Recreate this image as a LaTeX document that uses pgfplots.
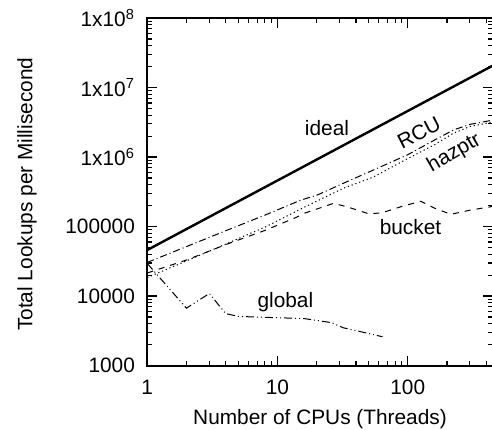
\documentclass[border=0pt]{standalone}
\usepackage{fontspec}
\setmainfont{Liberation Sans}
\usepackage{pgfplots}
\pgfplotsset{compat=1.18}
\begin{document}
\fontsize{10.4}{12}\selectfont
\begin{tikzpicture}
\begin{axis}[name=ax,
  xmode=log, ymode=log,
  scale only axis, width=172.5pt, height=173.5pt,
  xmin=1, xmax=450, ymin=1000, ymax=1e8,
  xtick={1,10,100}, xticklabels={1,10,100},
  ytick={1000,10000,100000,1000000,10000000,100000000},
  yticklabels={1000,10000,100000,1x10\textsuperscript{6},1x10\textsuperscript{7},1x10\textsuperscript{8}},
  minor xtick={2,3,4,5,6,7,8,9,20,30,40,50,60,70,80,90,200,300,400},
  minor ytick={2e3,3e3,4e3,5e3,6e3,7e3,8e3,9e3,2e4,3e4,4e4,5e4,6e4,7e4,8e4,9e4,2e5,3e5,4e5,5e5,6e5,7e5,8e5,9e5,2e6,3e6,4e6,5e6,6e6,7e6,8e6,9e6,2e7,3e7,4e7,5e7,6e7,7e7,8e7,9e7},
  axis line style={line width=1pt},
  major tick length=5pt, minor tick length=2.5pt,
  every tick/.style={black, line width=0.6pt},
  tick label style={font=\fontsize{10.4}{12}\selectfont},
  xticklabel style={yshift=-3.5pt},
  yticklabel style={xshift=-2.5pt},
  label style={font=\fontsize{10.4}{12}\selectfont},
  xlabel={Number of CPUs (Threads)},
  ylabel={Total Lookups per Millisecond},
  xlabel style={at={(axis description cs:0.5,-0.153)}, anchor=center},
  ylabel style={at={(axis description cs:-0.348,0.493)}, anchor=center},
]
% ideal
\addplot[black, line width=1.2pt] coordinates {(1,46000) (450,20700000)};
% RCU
\addplot[black, line width=0.5pt, dash pattern=on 3.5pt off 1.5pt on 0.5pt off 1.5pt] coordinates {
(1,30500) (2,51500) (4,87000) (8,146000) (15,239000) (20,282000) (32,419000) (54,646000) (100,1080000) (160,1750000) (224,2450000) (300,2950000) (450,3400000)};
% hazptr
\addplot[black, line width=0.5pt, dash pattern=on 0.6pt off 1.4pt] coordinates {
(1,18500) (2,32000) (4,56000) (8,98000) (16,189000) (32,355000) (54,512000) (100,950000) (160,1500000) (224,2200000) (300,2750000) (450,3200000)};
% bucket
\addplot[black, line width=0.5pt, dash pattern=on 3pt off 3pt] coordinates {
(1,21500) (2,33000) (4,55000) (8,88000) (14,136000) (16,155000) (27,216000) (35,190000) (50,153000) (63,157000) (90,195000) (126,231000) (160,185000) (214,150000) (300,172000) (450,195000)};
% global
\addplot[black, line width=0.5pt, dash pattern=on 4pt off 1.5pt on 0.5pt off 1.5pt on 0.5pt off 1.5pt] coordinates {
(1,29500) (2,6700) (3,10900) (4,5600) (5,5100) (8,4950) (16,4750) (26,4150) (32,3500) (48,2950) (64,2600)};
\node at (axis cs:24,2600000) {ideal};
\node[rotate=27] at (axis cs:122,2250000) {RCU};
\node[rotate=30] at (axis cs:228,1130000) {hazptr};
\node at (axis cs:105,97000) {bucket};
\node at (axis cs:11.5,8100) {global};
\end{axis}
\pgfresetboundingbox
\path[use as bounding box] ([xshift=-73.5pt,yshift=-32pt]ax.south west) rectangle ([xshift=-0.4pt,yshift=9pt]ax.north east);
\end{tikzpicture}
\end{document}
